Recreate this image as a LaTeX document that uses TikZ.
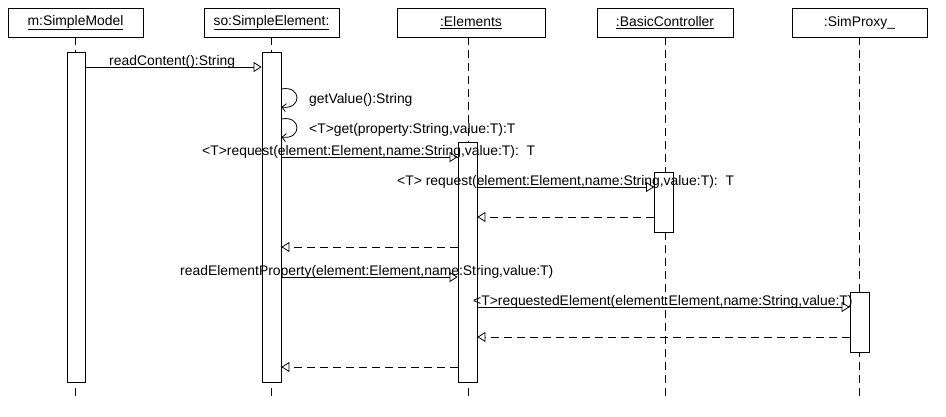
\documentclass[tikz,border=0pt]{standalone}
\usepackage{fontspec}
\setmainfont{Liberation Sans}
\usepackage{tikz}
\usetikzlibrary{arrows.meta, positioning, calc}

\begin{document}
\begin{tikzpicture}[
    x=1pt, y=-1pt,
    every node/.style={font=\fontsize{13.9}{16}\selectfont},
    head/.style={rectangle, draw=black, fill=white, line width=0.8pt,
                 minimum height=29pt, inner sep=0pt},
    actbar/.style={rectangle, draw=black, fill=white, line width=0.8pt,
                   minimum width=19pt, inner sep=0pt},
    lifeline/.style={line width=0.8pt, dash pattern=on 8pt off 5pt},
    call/.style={-{Triangle[open, length=8pt, width=10pt]}, line width=0.8pt},
    reply/.style={-{Triangle[open, length=8pt, width=10pt]}, line width=0.8pt,
                  dash pattern=on 8pt off 5pt},
    selfcall/.style={-{Straight Barb[length=4pt, width=8pt]}, line width=0.8pt},
    lbl/.style={anchor=base west, inner sep=0pt}
]
\useasboundingbox (0,0) rectangle (946,416);

% === Heads ===
\node[head, minimum width=135pt] (model) at (75.5, 22.5) {\underline{m:SimpleModel}};
\node[head, minimum width=135pt] (simple) at (271.5, 22.5) {\underline{so:SimpleElement:}};
\node[head, minimum width=148pt] (elems) at (471, 22.5) {\underline{:Elements}};
\node[head, minimum width=136pt] (ctrl) at (665, 22.5) {\underline{:BasicController}};
\node[head, minimum width=135pt] (proxy) at (859.5, 22.5) {:SimProxy\_};

% === Lifelines ===
\draw[lifeline] (model.south) -- (model.south |- 0,398);
\draw[lifeline] (simple.south) -- (simple.south |- 0,398);
\draw[lifeline] (468,37) -- (468,398);
\draw[lifeline] (ctrl.south) -- (ctrl.south |- 0,398);
\draw[lifeline] (proxy.south) -- (proxy.south |- 0,398);

% === Activation bars ===
\node[actbar, minimum width=18pt, minimum height=330pt] (modelbar) at (76, 217) {};
\node[actbar, minimum height=330pt] (simplebar) at (271.5, 217) {};
\node[actbar, minimum height=240pt] (elemsbar) at (467.5, 262) {};
\node[actbar, minimum height=60pt] (ctrlbar) at (664, 202) {};
\node[actbar, minimum height=60pt] (proxybar) at (859.5, 322) {};

% === Messages ===
\draw[call] (modelbar.east |- 0,67) -- (simplebar.west |- 0,67);
\node[lbl] (readlbl) at (109, 65) {readContent():String};

\draw[selfcall] (simplebar.east |- 0,89) .. controls (302,85) and (302,110) .. (simplebar.east |- 0,107);
\node[lbl] (getvallbl) at (309, 103) {getValue():String};
\draw[selfcall] (simplebar.east |- 0,119) .. controls (302,115) and (302,140) .. (simplebar.east |- 0,137);
\node[lbl] (getlbl) at (309, 133) {<T>get(property:String,value:T):T};

\draw[call] (simplebar.east |- 0,157) -- (elemsbar.west |- 0,157);
\node[lbl] (reqlbl) at (202, 155) {<T>request(element:Element,name:String,value:T):\ \ T};

\draw[call] (elemsbar.east |- 0,187) -- (ctrlbar.west |- 0,187);
\node[lbl] (req2lbl) at (397, 185) {<T> request(element:Element,name:String,value:T):\ \ T};

\draw[reply] (ctrlbar.west |- 0,217) -- (elemsbar.east |- 0,217);
\draw[reply] (elemsbar.west |- 0,247) -- (simplebar.east |- 0,247);

\draw[call] (simplebar.east |- 0,277) -- (elemsbar.west |- 0,277);
\node[lbl] (proplbl) at (180, 275) {readElementProperty(element:Element,name:String,value:T)};

\draw[call] (elemsbar.east |- 0,307) -- (proxybar.west |- 0,307);
\node[lbl] (reqellbl) at (473, 305) {<T>requestedElement(element:Element,name:String,value:T)};

\draw[reply] (proxybar.west |- 0,337) -- (elemsbar.east |- 0,337);
\draw[reply] (elemsbar.west |- 0,367) -- (simplebar.east |- 0,367);

\end{tikzpicture}
\end{document}
